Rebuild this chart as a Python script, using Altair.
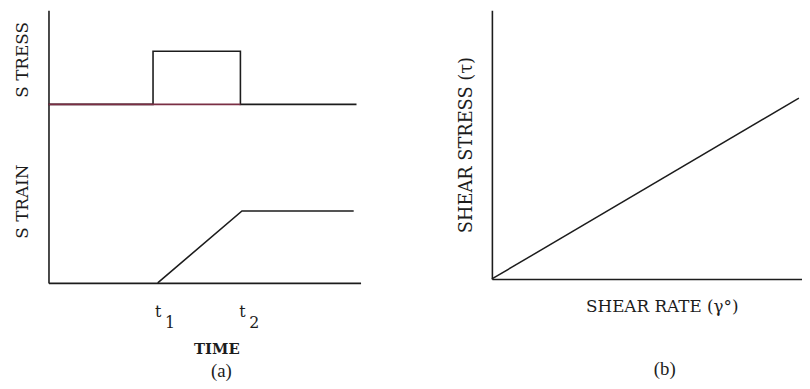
import altair as alt
import pandas as pd

# ---------------- data ----------------
# Panel (a): time axis in arbitrary units (0-10), shared vertical scale (0-10)
stress_x = [0.0, 3.35, 3.35, 6.15, 6.15, 9.87]
stress_y = [6.55, 6.55, 8.5, 8.5, 6.55, 6.55]
stress_base_x = [0.0, 6.15]
stress_base_y = [6.55, 6.55]
strain_x = [3.5, 6.2, 9.78]
strain_y = [0.0, 2.64, 2.64]
time_ticks = [3.5, 6.2]
time_subs = ["1", "2"]
a_label_pos = [8.2, 3.0]
a_labels = ["S TRESS", "S TRAIN"]

# Panel (b): Newtonian fluid, shear stress vs shear rate
rate_x = [0.0, 9.9]
shear_y = [0.0, 6.73]

INK = "#1c1c1c"
SERIF = "DejaVu Serif"

df_stress = pd.DataFrame({"x": stress_x, "y": stress_y, "i": range(len(stress_x))})
df_base = pd.DataFrame({"x": stress_base_x, "y": stress_base_y, "i": range(len(stress_base_x))})
df_strain = pd.DataFrame({"x": strain_x, "y": strain_y, "i": range(len(strain_x))})
df_b = pd.DataFrame({"x": rate_x, "y": shear_y})

xs = alt.Scale(domain=[0, 10], nice=False, zero=False)
ys = alt.Scale(domain=[0, 10], nice=False, zero=False)

y_expr = f"datum.value > 5 ? '{a_labels[0]}' : '{a_labels[1]}'"
axis_y_a = alt.Axis(values=a_label_pos, labelExpr=y_expr, labelAngle=-90,
                    labelAlign="center", labelBaseline="bottom", labelPadding=17,
                    ticks=False, tickSize=0, title=None, labelFont=SERIF,
                    labelFontSize=17, grid=False)

axis_t = alt.Axis(values=time_ticks, labelExpr="'t'", ticks=False, tickSize=0,
                  labelFont=SERIF, labelFontSize=16, labelBaseline="alphabetic",
                  labelPadding=34, title="TIME", titleFont=SERIF, titleFontSize=15,
                  titleFontWeight="bold", titleBaseline="alphabetic",
                  titleX=170, titleY=71, titleAnchor="middle", orient="bottom", grid=False)
sub_expr = f"datum.value < 5 ? '{time_subs[0]}' : '{time_subs[1]}'"
axis_sub = alt.Axis(values=time_ticks, labelExpr=sub_expr, ticks=False, tickSize=0,
                    domain=False, labelFont=SERIF, labelFontSize=16,
                    labelBaseline="alphabetic", labelPadding=45, labelOffset=12,
                    title=None, orient="bottom", grid=False)

stress_line = alt.Chart(df_stress).mark_line(color=INK, strokeWidth=1.6).encode(
    x=alt.X("x:Q", scale=xs, axis=axis_t),
    y=alt.Y("y:Q", scale=ys, axis=axis_y_a),
    order="i:Q",
)
strain_line = alt.Chart(df_strain).mark_line(color=INK, strokeWidth=1.6).encode(
    x=alt.X("x:Q", scale=xs, axis=axis_sub),
    y=alt.Y("y:Q", scale=ys, axis=axis_y_a),
    order="i:Q",
)
base_line = alt.Chart(df_base).mark_line(color="#7a2e44", strokeWidth=1.6).encode(
    x=alt.X("x:Q", scale=xs, axis=None),
    y=alt.Y("y:Q", scale=ys, axis=axis_y_a),
    order="i:Q",
)

panel_a = alt.layer(stress_line, base_line, strain_line).resolve_axis(
    x="independent"
).properties(
    width=316, height=276,
    title=alt.TitleParams("(a)", orient="bottom", dx=17, offset=6, fontSize=19,
                          font="Liberation Serif", fontWeight="normal", color=INK),
)

panel_b = alt.Chart(df_b).mark_line(color=INK, strokeWidth=1.5).encode(
    x=alt.X("x:Q", scale=xs,
            axis=alt.Axis(labels=False, ticks=False, tickSize=0, grid=False,
                          title="SHEAR RATE (γ°)", titleFont=SERIF, titleFontSize=17,
                          titleFontWeight="normal", titleBaseline="alphabetic",
                          titleX=172, titleY=33)),
    y=alt.Y("y:Q", scale=ys,
            axis=alt.Axis(labels=False, ticks=False, tickSize=0, grid=False,
                          title="SHEAR STRESS (τ)", titleFont=SERIF, titleFontSize=18,
                          titleFontWeight="normal", titlePadding=17)),
).properties(
    width=314, height=272,
    title=alt.TitleParams("(b)", orient="bottom", dx=18, offset=46, fontSize=19,
                          font="Liberation Serif", fontWeight="normal", color=INK),
)

chart = alt.hconcat(panel_a, panel_b, spacing=98).properties(
    padding={"left": 5, "top": 0, "right": 0, "bottom": 0},
    background="white",
).configure_view(strokeWidth=0).configure_axis(
    domainColor=INK, domainWidth=1.6, labelColor=INK, titleColor=INK, grid=False
)

chart.save("out.html", embed_options={"renderer": "svg", "actions": False})
